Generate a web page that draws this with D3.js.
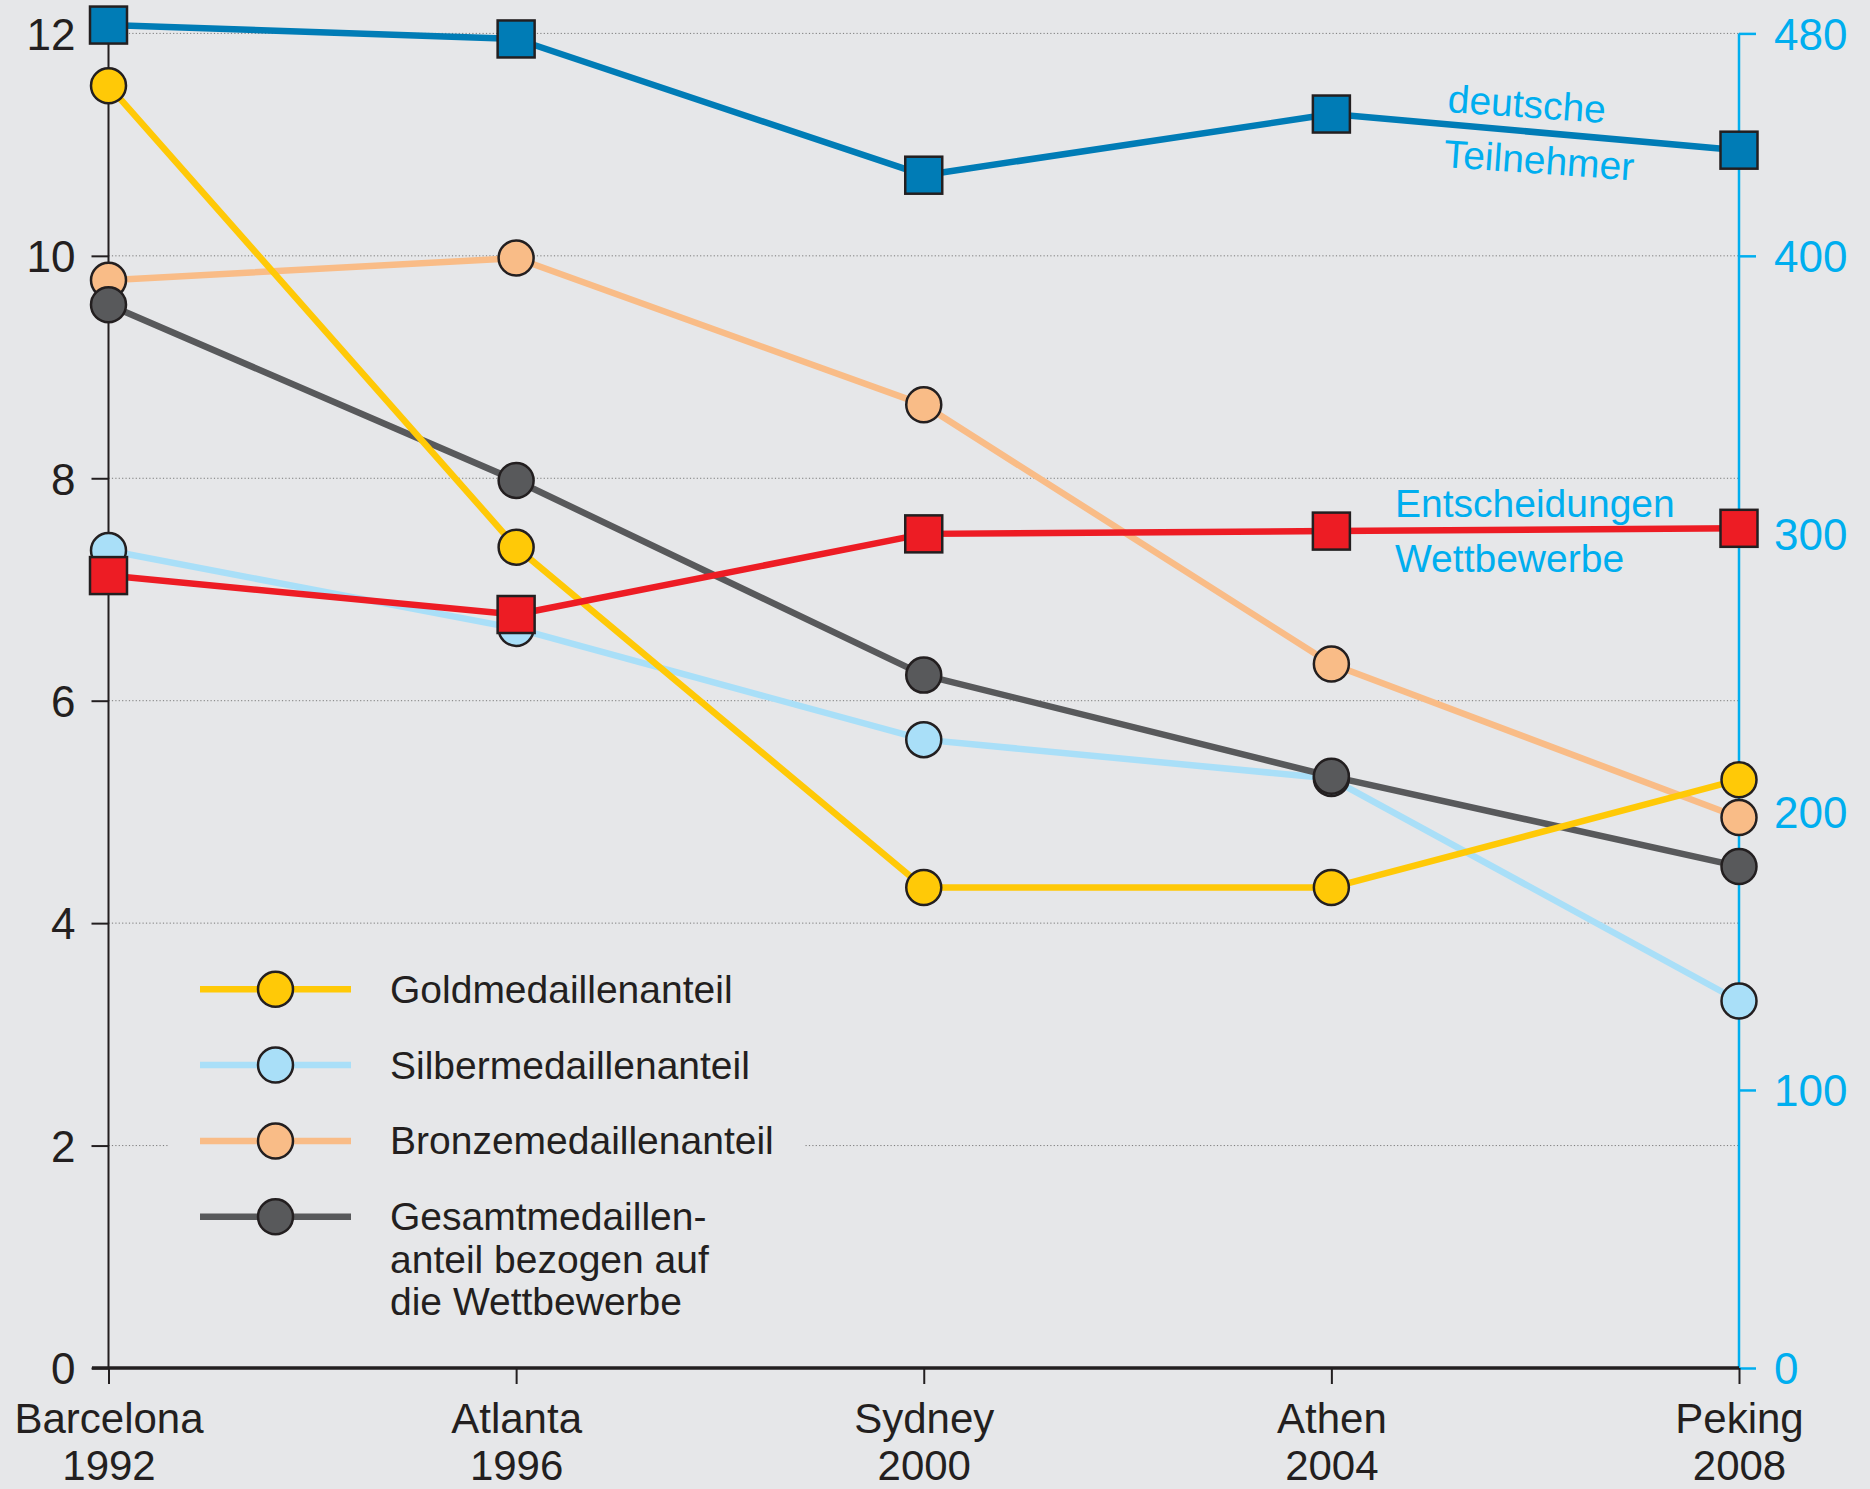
<!DOCTYPE html>
<html>
<head>
<meta charset="utf-8">
<script src="https://cdn.jsdelivr.net/npm/d3@7"></script>
<style>
  html, body { margin: 0; padding: 0; background: #e6e7e9; }
  svg { display: block; }
</style>
</head>
<body>
<div id="chart"></div>
<script>
(function() {
  // --- data ---
  var cities = ['Barcelona', 'Atlanta', 'Sydney', 'Athen', 'Peking'];
  var years = ['1992', '1996', '2000', '2004', '2008'];
  var leftTicks = [0, 2, 4, 6, 8, 10, 12];
  var rightTicks = [0, 100, 200, 300, 400, 480];

  var gold = [11.53, 7.38, 4.32, 4.32, 5.29];
  var silver = [7.35, 6.65, 5.65, 5.30, 3.30];
  var bronze = [9.78, 9.98, 8.66, 6.33, 4.95];
  var total = [9.56, 7.98, 6.23, 5.32, 4.51];
  var teilnehmer = [483, 478, 429, 451, 438];
  var entscheidungen = [285, 271, 300, 301, 302];

  var legendLabels = ['Goldmedaillenanteil', 'Silbermedaillenanteil', 'Bronzemedaillenanteil',
    'Gesamtmedaillen-|anteil bezogen auf|die Wettbewerbe'];

  var FONT = '"Liberation Sans", Arial, Helvetica, sans-serif';
  var BG = '#e6e7e9', INK = '#231f20', CYAN = '#00aeef';

  var W = 1870, H = 1489;
  var svg = d3.select('#chart').append('svg').attr('width', W).attr('height', H);
  svg.append('rect').attr('width', W).attr('height', H).attr('fill', BG);

  var x = d3.scalePoint().domain(cities).range([108.5, 1739]);
  var y = d3.scaleLinear().domain([0, 12]).range([1368, 33.4]);
  var yR = d3.scaleLinear().domain([0, 480]).range([1368, 33.4]);

  // Grid (dotted, left ticks only)
  svg.append('g').selectAll('line').data(leftTicks.filter(function(d) { return d > 0; })).join('line')
    .attr('x1', x('Barcelona')).attr('x2', x('Peking'))
    .attr('y1', function(d) { return y(d); }).attr('y2', function(d) { return y(d); })
    .attr('stroke', '#7a7a7a').attr('stroke-width', 1).attr('stroke-dasharray', '1.2,2.2');

  // Legend backdrop hides grid line behind legend
  svg.append('rect').attr('x', 168).attr('y', 940).attr('width', 636).attr('height', 400).attr('fill', BG);

  // Left axis
  var axL = svg.append('g').attr('transform', 'translate(' + x('Barcelona') + ',0)')
    .call(d3.axisLeft(y).tickValues(leftTicks).tickSize(17).tickPadding(16));
  axL.select('.domain').attr('stroke', INK).attr('stroke-width', 2).attr('d', 'M0,' + y(12) + 'V' + y(0));
  axL.selectAll('.tick line').attr('stroke', INK).attr('stroke-width', 2);
  axL.selectAll('.tick text').attr('fill', INK).attr('font-size', '44px').attr('font-family', FONT).attr('dy', '0.36em');

  // Right axis
  var axR = svg.append('g').attr('transform', 'translate(' + x('Peking') + ',0)')
    .call(d3.axisRight(yR).tickValues(rightTicks).tickSize(17).tickPadding(18));
  axR.select('.domain').attr('stroke', CYAN).attr('stroke-width', 2.5).attr('d', 'M0,' + yR(480) + 'V' + yR(0));
  axR.selectAll('.tick line').attr('stroke', CYAN).attr('stroke-width', 2.5);
  axR.selectAll('.tick text').attr('fill', CYAN).attr('font-size', '44px').attr('font-family', FONT).attr('dy', '0.36em');

  // Bottom axis
  var axB = svg.append('g').attr('transform', 'translate(0,' + y(0) + ')')
    .call(d3.axisBottom(x).tickSize(16).tickFormat(''));
  axB.select('.domain').attr('stroke', INK).attr('stroke-width', 3.5).attr('d', 'M92,0H' + x('Peking'));
  axB.selectAll('.tick line').attr('stroke', INK).attr('stroke-width', 2);
  axB.selectAll('.tick').each(function(d, i) {
    var t = d3.select(this).append('text').attr('fill', INK).attr('font-size', '42px')
      .attr('font-family', FONT).attr('text-anchor', 'middle');
    t.append('tspan').attr('x', 0).attr('y', 65).text(d);
    t.append('tspan').attr('x', 0).attr('y', 112).text(years[i]);
  });

  var series = [
    { vals: bronze, scale: y, color: '#f9bc87', shape: 'circle' },
    { vals: silver, scale: y, color: '#a9dff8', shape: 'circle' },
    { vals: total, scale: y, color: '#58595b', shape: 'circle' },
    { vals: gold, scale: y, color: '#ffc907', shape: 'circle' },
    { vals: teilnehmer, scale: yR, color: '#007cb6', shape: 'square' },
    { vals: entscheidungen, scale: yR, color: '#ed1c24', shape: 'square' }
  ];
  var markerOrder = [3, 1, 0, 2, 4, 5];

  // Lines
  series.forEach(function(s) {
    var line = d3.line().x(function(d, i) { return x(cities[i]); }).y(function(d) { return s.scale(d); });
    svg.append('path').datum(s.vals).attr('d', line)
      .attr('fill', 'none').attr('stroke', s.color).attr('stroke-width', 6.5).attr('stroke-linejoin', 'round');
  });

  // Markers
  markerOrder.forEach(function(k) {
    var s = series[k];
    s.vals.forEach(function(v, i) {
      var cx = x(cities[i]), cy = s.scale(v);
      if (s.shape === 'circle') {
        svg.append('circle').attr('cx', cx).attr('cy', cy).attr('r', 17.5)
          .attr('fill', s.color).attr('stroke', INK).attr('stroke-width', 2.5);
      } else {
        svg.append('rect').attr('x', cx - 18.5).attr('y', cy - 18.5).attr('width', 37).attr('height', 37)
          .attr('fill', s.color).attr('stroke', INK).attr('stroke-width', 2.5);
      }
    });
  });

  // Series annotations
  var ann = [
    { text: 'deutsche', x: 1447, y: 112, rot: 4 },
    { text: 'Teilnehmer', x: 1443, y: 167, rot: 4 },
    { text: 'Entscheidungen', x: 1395, y: 517, rot: 0 },
    { text: 'Wettbewerbe', x: 1395, y: 572, rot: 0 }
  ];
  ann.forEach(function(a) {
    svg.append('text').attr('transform', 'translate(' + a.x + ',' + a.y + ') rotate(' + a.rot + ')')
      .attr('fill', CYAN).attr('font-size', '39px').attr('font-family', FONT).text(a.text);
  });

  // Legend
  var legColors = ['#ffc907', '#a9dff8', '#f9bc87', '#58595b'];
  legendLabels.forEach(function(lbl, i) {
    var ly = 989.3 + i * 75.8;
    svg.append('line').attr('x1', 200).attr('x2', 351).attr('y1', ly).attr('y2', ly)
      .attr('stroke', legColors[i]).attr('stroke-width', 6.5);
    svg.append('circle').attr('cx', 275.5).attr('cy', ly).attr('r', 17.5)
      .attr('fill', legColors[i]).attr('stroke', INK).attr('stroke-width', 2.5);
    var t = svg.append('text').attr('fill', INK).attr('font-size', '39px').attr('font-family', FONT);
    lbl.split('|').forEach(function(part, j) {
      t.append('tspan').attr('x', 390).attr('y', ly + 13.5 + j * 42.5).text(part);
    });
  });
})();
</script>
</body>
</html>
